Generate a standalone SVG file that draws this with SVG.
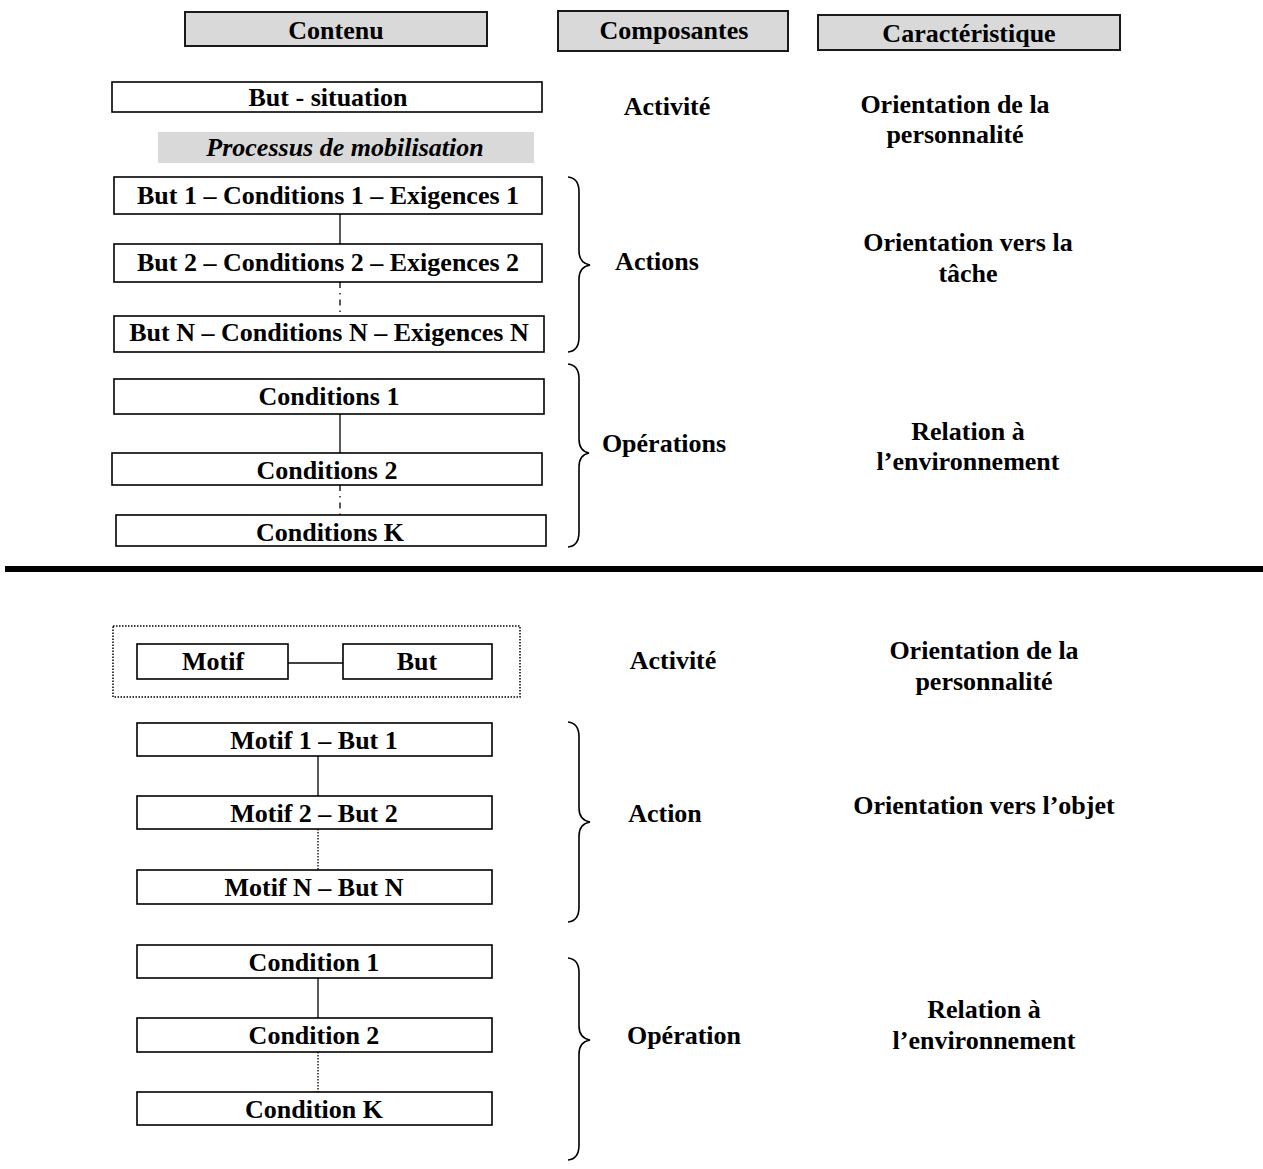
<svg xmlns="http://www.w3.org/2000/svg" width="1263" height="1169" viewBox="0 0 1263 1169">
<style>
text{font-family:"Liberation Serif","Times New Roman",serif;font-weight:bold;font-size:26px;fill:#000;text-anchor:middle;dominant-baseline:central}
.hdr{fill:#d9d9d9;stroke:#1a1a1a;stroke-width:2}
.box{fill:#fff;stroke:#000;stroke-width:1.6}
.ln{stroke:#000;stroke-width:1.3;fill:none}
.dd{stroke:#000;stroke-width:1.3;fill:none;stroke-dasharray:6,5,1.5,5}
.dot{stroke:#000;stroke-width:1.3;fill:none;stroke-dasharray:1.5,1.5}
.brace{stroke:#000;stroke-width:1.6;fill:none}
.it{font-style:italic}
</style>
<rect width="1263" height="1169" fill="#fff"/>
<g id="h-contenu"><rect class="hdr" x="185" y="12" width="302" height="34"/><text x="336" y="30">Contenu</text></g>
<g id="h-composantes"><rect class="hdr" x="558" y="11" width="230" height="40"/><text x="674" y="30">Composantes</text></g>
<g id="h-caracteristique"><rect class="hdr" x="818" y="15" width="302" height="35"/><text x="969" y="33">Caractéristique</text></g>

<g id="but-situation"><rect class="box" x="112" y="82" width="430" height="30"/><text x="328" y="97">But - situation</text></g>
<g id="processus"><rect x="158" y="132" width="376" height="31" fill="#d9d9d9"/><text class="it" x="345" y="147">Processus de mobilisation</text></g>
<g id="but1"><rect class="box" x="114" y="177" width="428" height="37"/><text x="328" y="195">But 1 – Conditions 1 – Exigences 1</text></g>
<g id="but2"><rect class="box" x="114" y="244" width="428" height="38"/><text x="328" y="262">But 2 – Conditions 2 – Exigences 2</text></g>
<g id="butN"><rect class="box" x="114" y="316" width="430" height="36"/><text x="329" y="332">But N – Conditions N – Exigences N</text></g>
<g id="cond1"><rect class="box" x="114" y="379" width="430" height="35"/><text x="329" y="396">Conditions 1</text></g>
<g id="cond2"><rect class="box" x="112" y="453" width="430" height="32"/><text x="327" y="470">Conditions 2</text></g>
<g id="condK"><rect class="box" x="116" y="515" width="430" height="31"/><text x="330" y="532">Conditions K</text></g>

<g id="lbl-activite1"><text x="667" y="106">Activité</text></g>
<g id="lbl-actions"><text x="657" y="261">Actions</text></g>
<g id="lbl-operations"><text x="664" y="443">Opérations</text></g>
<g id="car-1"><text x="955" y="104">Orientation de la</text><text x="955" y="134">personnalité</text></g>
<g id="car-2"><text x="968" y="242">Orientation vers la</text><text x="968" y="273">tâche</text></g>
<g id="car-3"><text x="968" y="431">Relation à</text><text x="968" y="461">l’environnement</text></g>

<line id="separator" x1="5" y1="569" x2="1263" y2="569" stroke="#000" stroke-width="6"/>

<g id="activite-group"><rect x="113" y="626" width="407" height="71" fill="none" stroke="#000" stroke-width="1.5" stroke-dasharray="1.5,1.5"/></g>
<g id="motif"><rect class="box" x="137" y="644" width="151" height="35"/><text x="213" y="661">Motif</text></g>
<g id="but"><rect class="box" x="343" y="644" width="149" height="35"/><text x="417" y="661">But</text></g>
<g id="motif1"><rect class="box" x="137" y="723" width="355" height="33"/><text x="314" y="740">Motif 1 – But 1</text></g>
<g id="motif2"><rect class="box" x="137" y="796" width="355" height="33"/><text x="314" y="813">Motif 2 – But 2</text></g>
<g id="motifN"><rect class="box" x="137" y="870" width="355" height="34"/><text x="314" y="887">Motif N – But N</text></g>
<g id="condition1"><rect class="box" x="137" y="945" width="355" height="33"/><text x="314" y="962">Condition 1</text></g>
<g id="condition2"><rect class="box" x="137" y="1018" width="355" height="34"/><text x="314" y="1035">Condition 2</text></g>
<g id="conditionK"><rect class="box" x="137" y="1092" width="355" height="33"/><text x="314" y="1109">Condition K</text></g>

<g id="lbl-activite2"><text x="673" y="660">Activité</text></g>
<g id="lbl-action"><text x="665" y="813">Action</text></g>
<g id="lbl-operation"><text x="684" y="1035">Opération</text></g>
<g id="car-4"><text x="984" y="650">Orientation de la</text><text x="984" y="681">personnalité</text></g>
<g id="car-5"><text x="984" y="805">Orientation vers l’objet</text></g>
<g id="car-6"><text x="984" y="1009">Relation à</text><text x="984" y="1040">l’environnement</text></g>

<g id="connectors">
<line class="ln" x1="340" y1="214" x2="340" y2="244"/>
<line class="dd" x1="340" y1="282" x2="340" y2="316"/>
<line class="ln" x1="340" y1="414" x2="340" y2="453"/>
<line class="dd" x1="340" y1="485" x2="340" y2="515"/>
<line class="ln" x1="288" y1="663" x2="343" y2="663"/>
<line class="ln" x1="318" y1="756" x2="318" y2="796"/>
<line class="dot" x1="318" y1="829" x2="318" y2="870"/>
<line class="ln" x1="318" y1="978" x2="318" y2="1018"/>
<line class="dot" x1="318" y1="1052" x2="318" y2="1092"/>
</g>
<g id="braces">
<path class="brace" d="M568,177 Q579,178 579,192 L579,251 Q579,263 590,265 Q579,267 579,279 L579,337 Q579,351 568,352"/>
<path class="brace" d="M568,364 Q579,365 579,379 L579,439 Q579,451 589,453 Q579,455 579,467 L579,532 Q579,546 568,547"/>
<path class="brace" d="M568,722 Q579,723 579,737 L579,808 Q579,820 590,822 Q579,824 579,836 L579,907 Q579,921 568,922"/>
<path class="brace" d="M568,958 Q579,959 579,973 L579,1026 Q579,1038 590,1040 Q579,1042 579,1054 L579,1145 Q579,1159 568,1160"/>
</g>
</svg>
